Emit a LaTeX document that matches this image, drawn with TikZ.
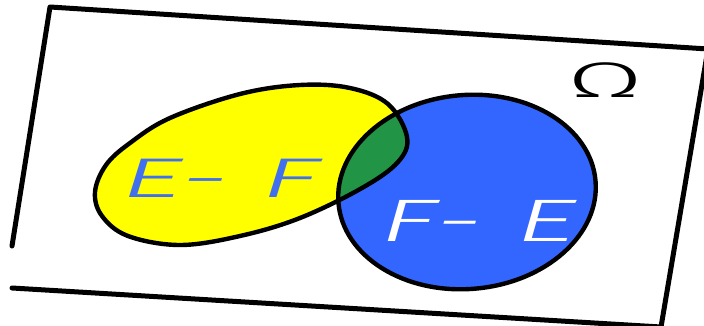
\documentclass[tikz,border=0pt]{standalone}
\usepackage{fontspec}
\setmainfont{Liberation Sans}
\newfontfamily\handfont{Fira Sans Light Italic}
\newfontfamily\omegafont{Fira Sans Light}
\usetikzlibrary{positioning}
\definecolor{setyellow}{RGB}{255,255,0}
\definecolor{setblue}{RGB}{51,102,255}
\definecolor{setgreen}{RGB}{34,148,70}
\definecolor{labelblue}{RGB}{64,112,240}

\begin{document}
\begin{tikzpicture}[x=1pt,y=-1pt,line join=round,line cap=round]
\tikzset{
  frame/.style={draw=black,line width=5pt},
  outline/.style={draw=black,line width=4.4pt},
  lbl/.style={inner sep=0pt,font=\handfont\fontsize{56}{56}\selectfont}
}
\useasboundingbox (0,0) rectangle (704,326);
\clip (0,0) rectangle (704,326);
\fill[white] (0,0) rectangle (704,326);
% sample space
\draw[frame] (12,246) -- (50,7) -- (708,49) -- (661,327) -- (12,288);
% the two sets
\def\setE{plot[smooth cycle,tension=0.6] coordinates{(95,192) (106,165) (130,143) (170,118) (240,94) (300,85) (350,88) (388,104) (407,137) (398,162) (362,188) (300,218) (240,236) (180,245) (128,236) (102,216)}}
\def\setF{[rotate around={5:(467,192)}] (467,192) ellipse [x radius=129pt,y radius=97pt]}
\fill[setyellow] \setE;
\fill[setblue] \setF;
\begin{scope}
  \clip \setE;
  \fill[setgreen] \setF;
\end{scope}
\draw[outline] \setE;
\draw[outline] \setF;
% labels
\node[lbl,text=labelblue] (ef) at (220,178) {\scalebox{2.2}[1]{E-\hspace{14pt}F}};
\node[lbl,text=white,font=\handfont\fontsize{60}{60}\selectfont] (fe) at (478,221) {\scalebox{2}[1]{F-\hspace{16pt}E}};
\node[inner sep=0pt,font=\omegafont\fontsize{50}{50}\selectfont] (omega) at (605,80) {\scalebox{2.2}[1]{Ω}};
\end{tikzpicture}
\end{document}
